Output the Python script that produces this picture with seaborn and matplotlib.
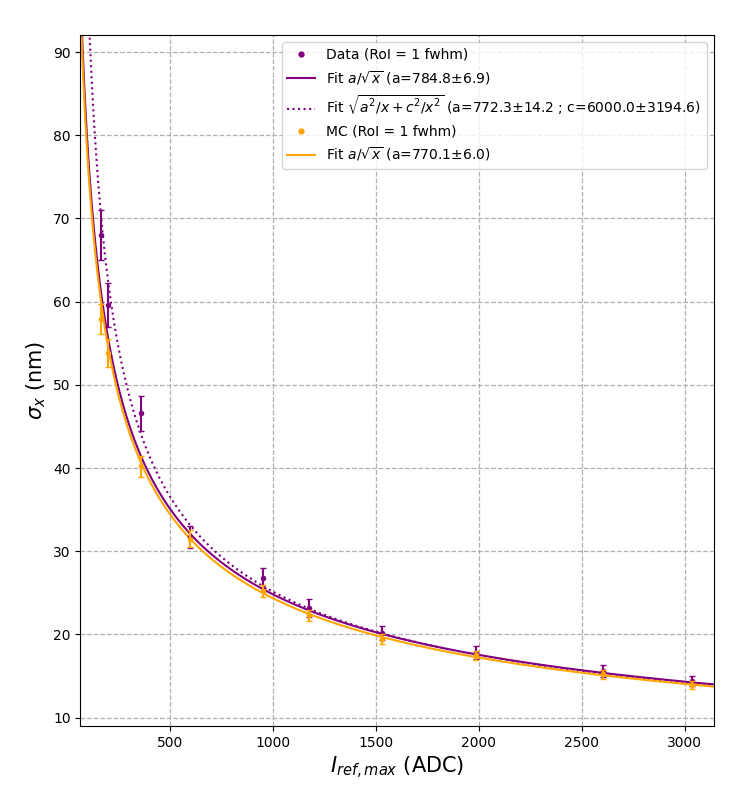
import numpy as np
import pandas as pd
import matplotlib
matplotlib.use("Agg")
import matplotlib.pyplot as plt
import seaborn as sns
from matplotlib.lines import Line2D

# Data (RoI = 1 fwhm)
data_x = [164, 199, 358, 596, 951, 1175, 1531, 1984, 2602, 3036]
data_y = [68.0, 59.6, 46.6, 31.7, 26.8, 23.2, 20.2, 17.8, 15.6, 14.4]
data_err = [3.0, 2.6, 2.1, 1.35, 1.2, 1.1, 0.85, 0.8, 0.7, 0.6]

# MC (RoI = 1 fwhm)
mc_x = [164, 199, 358, 596, 951, 1175, 1531, 1984, 2602, 3036]
mc_y = [57.9, 53.8, 40.2, 31.5, 25.2, 22.3, 19.5, 17.5, 15.2, 13.9]
mc_err = [1.8, 1.7, 1.25, 1.0, 0.75, 0.7, 0.6, 0.55, 0.5, 0.5]

# fit parameters from the legend
a_data = 784.8
a2_data, c2_data = 772.3, 6000.0
a_mc = 770.1

x_fit = np.linspace(65, 3140, 600)
df_fit = pd.DataFrame({
    "x": x_fit,
    "fit_data": a_data / np.sqrt(x_fit),
    "fit2_data": np.sqrt(a2_data**2 / x_fit + c2_data**2 / x_fit**2),
    "fit_mc": a_mc / np.sqrt(x_fit),
})

fig = plt.figure(figsize=(7.52, 7.87), dpi=100)
ax = fig.add_axes([0.107, 0.0775, 0.842, 0.8775])

ax.errorbar(data_x, data_y, yerr=data_err, fmt="none", ecolor="purple", capsize=2, zorder=3)
sns.scatterplot(x=data_x, y=data_y, color="purple", s=16, linewidth=0, ax=ax, zorder=4)
sns.lineplot(data=df_fit, x="x", y="fit_data", color="purple", lw=1.5, ax=ax, zorder=2)
sns.lineplot(data=df_fit, x="x", y="fit2_data", color="purple", lw=1.5, linestyle=":", ax=ax, zorder=2)
ax.errorbar(mc_x, mc_y, yerr=mc_err, fmt="none", ecolor="orange", capsize=2, zorder=5)
sns.scatterplot(x=mc_x, y=mc_y, color="orange", s=16, linewidth=0, ax=ax, zorder=6)
sns.lineplot(data=df_fit, x="x", y="fit_mc", color="orange", lw=1.5, ax=ax, zorder=2)

handles = [
    Line2D([], [], marker=".", ls="none", color="purple", ms=7),
    Line2D([], [], color="purple", lw=1.5),
    Line2D([], [], color="purple", lw=1.5, ls=":"),
    Line2D([], [], marker=".", ls="none", color="orange", ms=7),
    Line2D([], [], color="orange", lw=1.5),
]
labels = [
    "Data (RoI = 1 fwhm)",
    r"Fit $a/\sqrt{x}$ (a=784.8$\pm$6.9)",
    r"Fit $\sqrt{a^2/x+c^2/x^2}$ (a=772.3$\pm$14.2 ; c=6000.0$\pm$3194.6)",
    "MC (RoI = 1 fwhm)",
    r"Fit $a/\sqrt{x}$ (a=770.1$\pm$6.0)",
]
ax.legend(handles, labels, loc="upper right", fontsize=10)

ax.set_xlim(65, 3140)
ax.set_ylim(9.0, 92)
ax.grid(True, linestyle="--", color="#b0b0b0", lw=0.9)
ax.set_axisbelow(True)
ax.set_xlabel(r"$I_{ref,max}$ (ADC)", fontsize=15)
ax.set_ylabel(r"$\sigma_x$ (nm)", fontsize=15)

fig.savefig("out.png", dpi=100)
